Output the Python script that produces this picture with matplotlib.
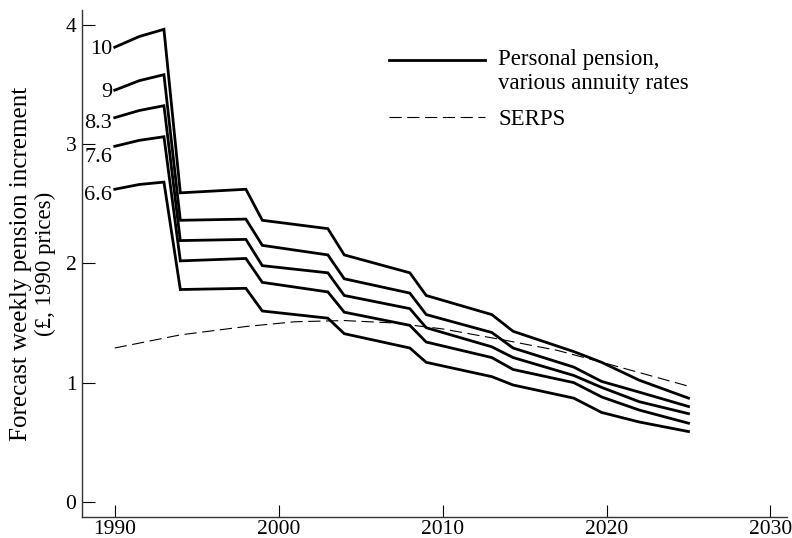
import matplotlib
matplotlib.use("Agg")
import matplotlib.pyplot as plt

plt.rcParams['font.family'] = ['Liberation Serif', 'DejaVu Serif']

years = [1990, 1991.5, 1993, 1994, 1998, 1999, 2003, 2004, 2008, 2009,
         2013, 2014.3, 2018, 2019.7, 2022, 2025]

rate_labels = ["10", "9", "8.3", "7.6", "6.6"]
pp_10 = [3.81, 3.90, 3.96, 2.59, 2.62, 2.36, 2.29, 2.07, 1.92, 1.73,
         1.57, 1.43, 1.26, 1.17, 1.02, 0.87]
pp_9 = [3.45, 3.53, 3.58, 2.36, 2.37, 2.15, 2.07, 1.87, 1.75, 1.57,
        1.42, 1.29, 1.13, 1.01, 0.92, 0.80]
pp_83 = [3.22, 3.28, 3.32, 2.19, 2.20, 1.98, 1.92, 1.73, 1.62, 1.46,
         1.30, 1.21, 1.06, 0.96, 0.84, 0.74]
pp_76 = [2.98, 3.03, 3.06, 2.02, 2.04, 1.84, 1.76, 1.59, 1.48, 1.34,
         1.21, 1.11, 1.00, 0.88, 0.77, 0.66]
pp_66 = [2.62, 2.66, 2.68, 1.78, 1.79, 1.60, 1.54, 1.41, 1.29, 1.17,
         1.05, 0.98, 0.87, 0.75, 0.67, 0.59]
personal = [pp_10, pp_9, pp_83, pp_76, pp_66]

serps_years = [1990, 1994, 1998, 2001, 2004, 2007, 2010, 2014, 2017, 2020, 2025]
serps_vals = [1.29, 1.40, 1.47, 1.51, 1.52, 1.50, 1.45, 1.35, 1.27, 1.16, 0.97]

x_ticks = [1990, 2000, 2010, 2020, 2030]
y_ticks = [0, 1, 2, 3, 4]

fig = plt.figure(figsize=(7.92, 5.38), dpi=100)
ax = fig.add_axes([0.1035, 0.039, 0.89, 0.942])

for vals in personal:
    ax.plot(years, vals, color='black', lw=2.0, solid_joinstyle='miter')
ax.plot(serps_years, serps_vals, color='black', lw=0.8, dashes=(11, 5))

label_offsets = [-0.02, -0.02, -0.05, -0.09, -0.05]
for lab, vals, off in zip(rate_labels, personal, label_offsets):
    ax.annotate(lab, xy=(years[0], vals[0] + off), xytext=(-2, 0),
                textcoords='offset points', ha='right', va='center',
                fontsize=16)

ax.set_xlim(1988.0, 2031.0)
ax.set_ylim(-0.126, 4.12)
ax.set_xticks(x_ticks)
ax.set_yticks(y_ticks)
ax.tick_params(direction='in', length=9, width=0.8, labelsize=15.5, pad=4)
ax.tick_params(axis='x', pad=2)
for s in ['top', 'right']:
    ax.spines[s].set_visible(False)
for s in ['left', 'bottom']:
    ax.spines[s].set_linewidth(1.0)
    ax.spines[s].set_color('#333333')

fig.text(0.027, 0.51, "Forecast weekly pension increment", rotation=90,
         ha='center', va='center', fontsize=18)
fig.text(0.057, 0.51, "(\u00a3, 1990 prices)", rotation=90,
         ha='center', va='center', fontsize=16.5)

# legend (drawn manually to match the reference layout)
lx0, lx1 = 2006.7, 2012.6
ly1 = (502 - 60) / 119.3
ly2 = (502 - 117) / 119.3
ax.plot([lx0, lx1], [ly1, ly1], color='black', lw=2.0)
ax.plot([lx0, lx1], [ly2, ly2], color='black', lw=0.8, dashes=(11, 5))
ax.text(2013.4, ly1 + 0.005, "Personal pension,", ha='left', va='center', fontsize=16.5)
ax.text(2013.4, ly1 - 0.195, "various annuity rates", ha='left', va='center', fontsize=16.5)
ax.text(2013.4, ly2 - 0.02, "SERPS", ha='left', va='center', fontsize=16.5)

fig.savefig("out.png", dpi=100)
